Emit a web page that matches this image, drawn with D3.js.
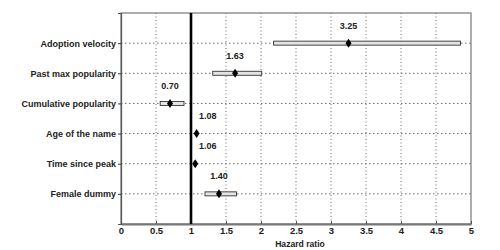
<!DOCTYPE html>
<html><head><meta charset="utf-8">
<script src="https://cdn.jsdelivr.net/npm/d3@7"></script>
<style>body{margin:0;background:#fff}svg text{font-family:"Liberation Sans",Arial,sans-serif;font-weight:bold;fill:#222}</style>
</head><body><svg id="c" width="500" height="250"></svg>
<script>
const categories = ["Adoption velocity","Past max popularity","Cumulative popularity","Age of the name","Time since peak","Female dummy"];
const estimates = [3.25, 1.63, 0.70, 1.08, 1.06, 1.40];
const ciLow  = [2.18, 1.31, 0.56, 1.07, 1.05, 1.20];
const ciHigh = [4.85, 2.01, 0.90, 1.09, 1.07, 1.65];
const xTicks = [0,0.5,1,1.5,2,2.5,3,3.5,4,4.5,5];
const xTickLabels = ["0","0.5","1","1.5","2","2.5","3","3.5","4","4.5","5"];

const svg = d3.select("#c");
const L=121, R=471, T=13, B=224;
const x = d3.scaleLinear().domain([0,5]).range([L,R]);
const y = d3.scaleLinear().domain([0,categories.length+1]).range([T,B]);

// vertical dotted grid
svg.selectAll(".vg").data(xTicks.filter(t=>t>0&&t<5&&t!==1)).enter().append("line")
  .attr("x1",d=>x(d)).attr("x2",d=>x(d)).attr("y1",T).attr("y2",B)
  .attr("stroke","#444").attr("stroke-width",0.8).attr("stroke-dasharray","1,2.5");
// horizontal grid
svg.selectAll(".hg").data(categories).enter().append("line")
  .attr("x1",L).attr("x2",R).attr("y1",(d,i)=>y(i+1)).attr("y2",(d,i)=>y(i+1))
  .attr("stroke","#444").attr("stroke-width",0.8).attr("stroke-dasharray","1.5,2.5");

// frame
svg.append("rect").attr("x",L).attr("y",T).attr("width",R-L).attr("height",B-T)
  .attr("fill","none").attr("stroke","#777").attr("stroke-width",1.2);

// x axis
const xa = svg.append("g").attr("transform",`translate(0,${B})`)
  .call(d3.axisBottom(x).tickValues(xTicks).tickFormat((d,i)=>xTickLabels[i]).tickSizeInner(-3).tickSizeOuter(0).tickPadding(3));
xa.select(".domain").attr("stroke","#777").attr("stroke-width",2);
xa.selectAll(".tick line").attr("stroke","#555");
xa.selectAll("text").attr("font-size",9.5).attr("font-family","Liberation Sans, Arial, sans-serif").attr("font-weight","bold").attr("fill","#222");

// y axis
const ya = svg.append("g").attr("transform",`translate(${L},0)`)
  .call(d3.axisLeft(y).tickValues(d3.range(1,categories.length+1)).tickFormat(d=>categories[d-1]).tickSize(3).tickPadding(2));
ya.select(".domain").attr("stroke","#555").attr("stroke-width",1.2);
ya.selectAll(".tick line").attr("stroke","#333");
ya.selectAll("text").attr("font-size",9).attr("font-family","Liberation Sans, Arial, sans-serif").attr("font-weight","bold").attr("fill","#222");

// reference line at 1
svg.append("line").attr("x1",x(1)).attr("x2",x(1)).attr("y1",T).attr("y2",B)
  .attr("stroke","#000").attr("stroke-width",2.6);

// CI boxes
svg.selectAll(".ci").data(categories).enter().append("rect")
  .attr("x",(d,i)=>x(ciLow[i])).attr("width",(d,i)=>x(ciHigh[i])-x(ciLow[i]))
  .attr("y",(d,i)=>y(i+1)-2).attr("height",4)
  .attr("fill","#e4e4e4").attr("stroke","#333").attr("stroke-width",0.9);

// diamonds
svg.selectAll(".pt").data(categories).enter().append("path")
  .attr("d",(d,i)=>{const cx=x(estimates[i]),cy=y(i+1);return `M${cx},${cy-4.5}L${cx+3},${cy}L${cx},${cy+4.5}L${cx-3},${cy}Z`;})
  .attr("fill","#000");

// value labels (labels close to the reference line are nudged right of it)
svg.selectAll(".vl").data(categories).enter().append("text")
  .attr("x",(d,i)=>{const v=estimates[i];return x(Math.abs(v-1)<0.2?1.24:v);})
  .attr("y",(d,i)=>y(i+1)-14.5)
  .attr("text-anchor","middle").attr("font-size",9)
  .text((d,i)=>estimates[i].toFixed(2));

// axis title
svg.append("text").attr("x",300).attr("y",246.5).attr("text-anchor","middle")
  .attr("font-size",8.6).text("Hazard ratio");
</script></body></html>
